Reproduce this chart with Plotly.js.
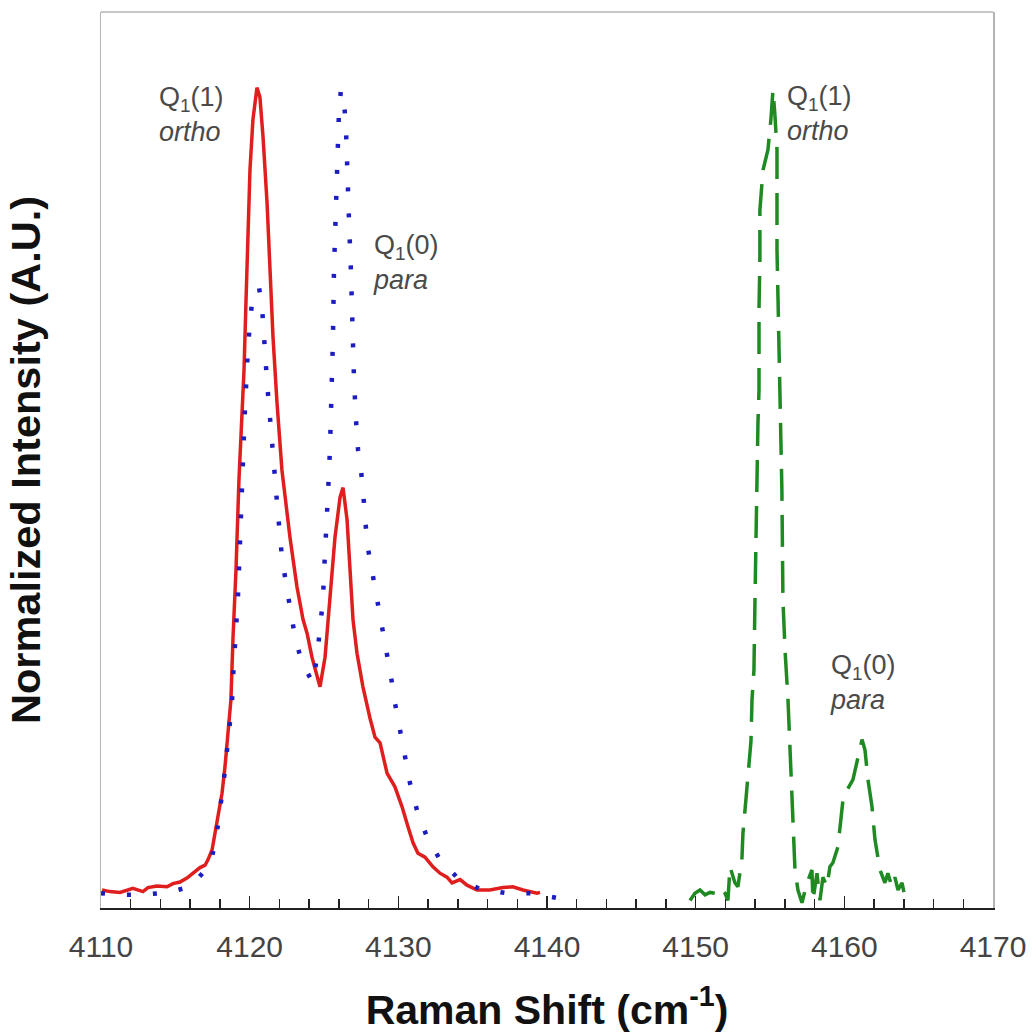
<!DOCTYPE html>
<html>
<head>
<meta charset="utf-8">
<script src="https://cdn.plot.ly/plotly-3.0.1.min.js"></script>
<style>
  html, body { margin: 0; padding: 0; background: #ffffff; }
  #chart { width: 1033px; height: 1036px; }
</style>
</head>
<body>
<div id="chart"></div>
<script>
// Raman spectra of the H2 Q1 branch, normalized intensity vs Raman shift (cm^-1)

// Solid red spectrum
const redShift = [4110.07, 4110.61, 4111.28, 4111.75, 4112.15, 4112.82, 4113.16, 4113.77, 4114.44, 4114.84,
  4115.31, 4115.78, 4116.19, 4116.66, 4117.00, 4117.20, 4117.47, 4117.67, 4117.87, 4118.14,
  4118.34, 4118.54, 4118.74, 4118.88, 4119.08, 4119.28, 4119.42, 4119.62, 4119.75, 4119.89,
  4120.02, 4120.22, 4120.49, 4120.69, 4120.90, 4121.17, 4121.37, 4121.57, 4121.84, 4122.17,
  4122.71, 4123.18, 4123.59, 4123.86, 4124.19, 4124.53, 4124.73, 4125.07, 4125.40, 4125.74,
  4126.08, 4126.28, 4126.55, 4126.75, 4126.95, 4127.22, 4127.62, 4128.09, 4128.43, 4128.77,
  4129.24, 4129.77, 4130.25, 4130.65, 4130.99, 4131.32, 4131.79, 4132.33, 4132.80, 4133.27,
  4133.61, 4134.15, 4134.62, 4135.29, 4136.16, 4137.04, 4137.71, 4138.38, 4139.33, 4139.53];
const redIntensity = [0.000, -0.002, -0.003, 0.000, 0.002, -0.002, 0.003, 0.005, 0.004, 0.008,
  0.010, 0.015, 0.021, 0.028, 0.031, 0.038, 0.050, 0.071, 0.096, 0.121,
  0.154, 0.196, 0.238, 0.316, 0.400, 0.513, 0.566, 0.650, 0.734, 0.816,
  0.900, 0.963, 1.003, 0.991, 0.941, 0.859, 0.775, 0.691, 0.609, 0.525,
  0.441, 0.379, 0.338, 0.321, 0.291, 0.266, 0.254, 0.291, 0.359, 0.441,
  0.491, 0.503, 0.463, 0.400, 0.338, 0.296, 0.254, 0.215, 0.191, 0.184,
  0.146, 0.129, 0.104, 0.079, 0.059, 0.046, 0.041, 0.029, 0.021, 0.016,
  0.009, 0.013, 0.006, 0.000, 0.000, 0.003, 0.004, 0.000, -0.004, -0.003];

// Dotted blue spectrum
const blueShift = [4110.00, 4111.28, 4112.76, 4114.51, 4115.99, 4117.33, 4117.73, 4118.00, 4118.21, 4118.41,
  4118.61, 4118.81, 4118.88, 4119.01, 4119.15, 4119.21, 4119.28, 4119.35, 4119.42, 4119.48,
  4119.55, 4119.62, 4119.69, 4119.75, 4119.82, 4119.89, 4120.02, 4120.16, 4120.36, 4120.63,
  4120.83, 4120.90, 4121.10, 4121.23, 4121.37, 4121.50, 4121.57, 4121.70, 4121.84, 4121.97,
  4122.17, 4122.44, 4122.71, 4123.05, 4123.52, 4124.26, 4124.53, 4124.73, 4124.93, 4125.00,
  4125.07, 4125.13, 4125.27, 4125.40, 4125.47, 4125.60, 4125.67, 4125.81, 4125.87, 4126.01,
  4126.14, 4126.34, 4126.48, 4126.55, 4126.68, 4126.81, 4126.88, 4127.02, 4127.15, 4127.29,
  4127.49, 4127.62, 4127.76, 4127.89, 4128.23, 4128.56, 4128.90, 4129.24, 4129.51, 4129.77,
  4130.11, 4130.45, 4130.78, 4131.25, 4131.93, 4132.80, 4133.94, 4135.49, 4137.31, 4139.06,
  4140.67];
const blueIntensity = [-0.004, -0.006, -0.006, -0.003, 0.004, 0.031, 0.063, 0.096, 0.129, 0.163,
  0.196, 0.234, 0.266, 0.300, 0.334, 0.366, 0.400, 0.429, 0.466, 0.500,
  0.541, 0.571, 0.604, 0.634, 0.659, 0.679, 0.709, 0.735, 0.748, 0.753,
  0.729, 0.704, 0.654, 0.621, 0.588, 0.559, 0.529, 0.516, 0.484, 0.450,
  0.416, 0.384, 0.350, 0.316, 0.284, 0.259, 0.291, 0.325, 0.363, 0.396,
  0.429, 0.463, 0.496, 0.550, 0.588, 0.688, 0.775, 0.863, 0.925, 0.975,
  1.000, 0.988, 0.950, 0.900, 0.838, 0.775, 0.704, 0.638, 0.588, 0.550,
  0.525, 0.503, 0.469, 0.434, 0.400, 0.366, 0.334, 0.300, 0.266, 0.234,
  0.200, 0.166, 0.134, 0.100, 0.066, 0.038, 0.016, 0.001, -0.004, -0.004,
  -0.010];

// Dashed green spectrum
const greenShift = [4149.62, 4149.95, 4150.29, 4150.63, 4150.96, 4151.30, 4151.63, 4151.97, 4152.17, 4152.31,
  4152.64, 4152.84, 4153.11, 4153.18, 4153.38, 4153.52, 4153.72, 4153.79, 4153.92, 4153.99,
  4154.06, 4154.12, 4154.12, 4154.19, 4154.26, 4154.26, 4154.26, 4154.32, 4154.32, 4154.53,
  4154.86, 4155.06, 4155.20, 4155.33, 4155.47, 4155.47, 4155.47, 4155.54, 4155.60, 4155.67,
  4155.74, 4155.80, 4155.87, 4156.01, 4156.21, 4156.34, 4156.48, 4156.61, 4156.68, 4156.88,
  4157.15, 4157.49, 4157.82, 4157.89, 4158.16, 4158.36, 4158.56, 4158.83, 4159.03, 4159.23,
  4159.57, 4159.91, 4160.18, 4160.58, 4160.85, 4161.19, 4161.39, 4161.59, 4161.86, 4162.06,
  4162.40, 4162.73, 4162.93, 4163.20, 4163.40, 4163.61, 4163.88, 4164.08];
const greenIntensity = [-0.013, -0.004, 0.000, -0.006, -0.003, -0.004, 0.003, -0.004, -0.013, 0.029,
  0.009, 0.004, 0.038, 0.071, 0.113, 0.146, 0.186, 0.238, 0.275, 0.363,
  0.438, 0.500, 0.546, 0.584, 0.625, 0.675, 0.725, 0.788, 0.850, 0.900,
  0.925, 0.963, 1.000, 0.969, 0.925, 0.863, 0.800, 0.738, 0.675, 0.613,
  0.550, 0.500, 0.363, 0.300, 0.238, 0.175, 0.113, 0.063, 0.025, 0.000,
  -0.016, 0.009, 0.025, -0.013, 0.021, -0.013, 0.016, 0.004, 0.029, 0.034,
  0.054, 0.113, 0.125, 0.138, 0.159, 0.188, 0.175, 0.138, 0.104, 0.063,
  0.025, 0.009, 0.021, 0.004, 0.016, 0.000, 0.009, -0.009];

// Peak labels
const labelText = ['Q<sub>1</sub>(1)<br><i>ortho</i>', 'Q<sub>1</sub>(0)<br><i>para</i>',
  'Q<sub>1</sub>(1)<br><i>ortho</i>', 'Q<sub>1</sub>(0)<br><i>para</i>'];
const labelShift = [4113.75, 4128.15, 4156.00, 4158.90];
const labelIntensity = [0.970, 0.785, 0.971, 0.259];

const xTicks = [4110, 4120, 4130, 4140, 4150, 4160, 4170];

const FONT = 'Liberation Sans, Arial, Helvetica, sans-serif';

const traces = [
  {
    x: redShift, y: redIntensity, type: 'scatter', mode: 'lines',
    line: { color: '#e01e1e', width: 3.5 }, hoverinfo: 'skip'
  },
  {
    x: blueShift, y: blueIntensity, type: 'scatter', mode: 'lines',
    line: { color: '#1c1cc0', width: 4.5, dash: '4px,22px' }, hoverinfo: 'skip'
  },
  {
    x: greenShift, y: greenIntensity, type: 'scatter', mode: 'lines',
    line: { color: '#1f8a22', width: 3.5, dash: '32px,14px' }, hoverinfo: 'skip'
  }
];

const annotations = labelText.map((t, i) => ({
  x: labelShift[i], y: labelIntensity[i], xref: 'x', yref: 'y',
  text: t, showarrow: false, xanchor: 'left', yanchor: 'middle', align: 'left',
  font: { family: FONT, size: 27, color: '#4a4a4a' }
}));

const layout = {
  width: 1033, height: 1036,
  margin: { l: 101, r: 40, t: 12, b: 128 },
  paper_bgcolor: '#ffffff', plot_bgcolor: '#ffffff',
  showlegend: false,
  xaxis: {
    range: [4110, 4170],
    tickmode: 'array', tickvals: xTicks, ticktext: xTicks.map(String),
    ticks: 'inside', ticklen: 12, tickwidth: 1.5, tickcolor: '#222222',
    minor: { dtick: 2, tick0: 4110, ticks: 'inside', ticklen: 9, tickwidth: 1.5, tickcolor: '#222222' },
    showline: true, linecolor: '#222222', linewidth: 2, mirror: false,
    showgrid: false, zeroline: false,
    ticklabelstandoff: 11,
    tickfont: { family: FONT, size: 30, color: '#444444' },
    title: { text: '<b>Raman Shift (cm<sup>-1</sup>)</b>', standoff: 33,
      font: { family: FONT, size: 41, color: '#111111' } }
  },
  yaxis: {
    range: [-0.0225, 1.0975],
    showticklabels: false, ticks: '',
    showline: true, linecolor: '#b4b4b4', linewidth: 1.5, mirror: true,
    showgrid: false, zeroline: false,
    title: { text: '<b>Normalized Intensity (A.U.)</b>', standoff: 46,
      font: { family: FONT, size: 41.5, color: '#111111' } }
  },
  shapes: [
    { type: 'line', xref: 'paper', yref: 'paper', x0: 0, x1: 1, y0: 1, y1: 1,
      line: { color: '#b4b4b4', width: 1.5 } }
  ],
  annotations: annotations
};

Plotly.newPlot('chart', traces, layout, { staticPlot: true, displayModeBar: false });
</script>
</body>
</html>
